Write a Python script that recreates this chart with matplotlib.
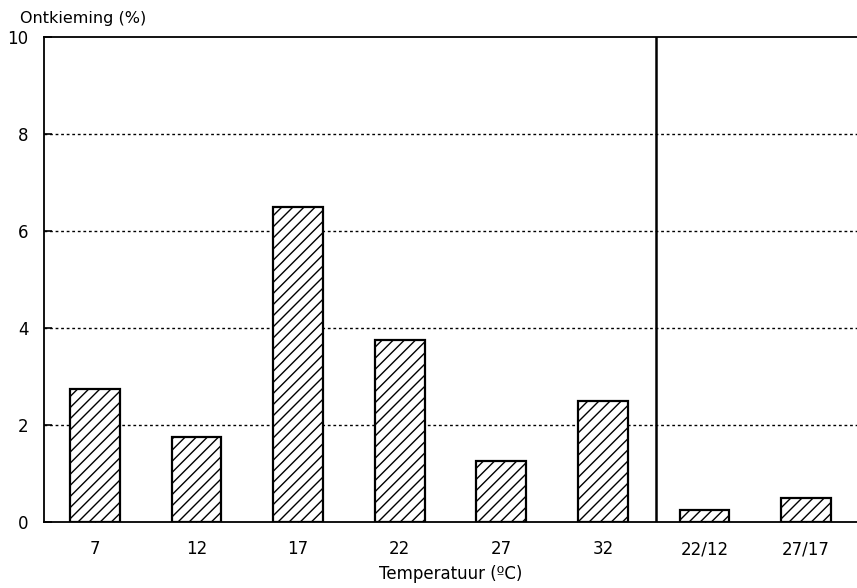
import matplotlib
matplotlib.use("Agg")
import matplotlib.pyplot as plt

categories = ["7", "12", "17", "22", "27", "32", "22/12", "27/17"]
values = [2.75, 1.75, 6.5, 3.75, 1.25, 2.5, 0.25, 0.5]
yticks = [0, 2, 4, 6, 8, 10]

plt.rcParams['hatch.linewidth'] = 1.0
fig = plt.figure(figsize=(8.57, 5.88), dpi=100)
ax = fig.add_axes([0.0513, 0.1122, 0.9487, 0.8248])

x = list(range(len(categories)))
ax.bar(x, values, width=0.49, facecolor="white", edgecolor="black",
       hatch="///", linewidth=1.6, zorder=3)

ax.set_xlim(-0.5, 7.5)
ax.set_ylim(0, 10)
ax.set_yticks(yticks)
ax.set_xticks(x)
ax.set_xticklabels(categories, fontsize=12)
ax.set_yticklabels([str(t) for t in yticks], fontsize=12)

for yv in [2, 4, 6, 8]:
    ax.axhline(yv, color="black", linestyle=(0, (2, 2)), linewidth=1.0, zorder=1)

ax.axvline(5.52, color="black", linewidth=1.8, zorder=4)

ax.spines['right'].set_visible(False)
for s in ['left', 'top', 'bottom']:
    ax.spines[s].set_linewidth(1.3)

ax.tick_params(axis='x', direction='in', length=5, width=1, pad=13)
ax.tick_params(axis='y', direction='in', length=6, width=1.2, pad=11)

ax.set_xlabel("Temperatuur (ºC)", fontsize=12, labelpad=5)
fig.text(0.023, 0.955, "Ontkieming (%)", fontsize=11.5, ha="left", va="bottom")

fig.savefig("out.png", dpi=100)
